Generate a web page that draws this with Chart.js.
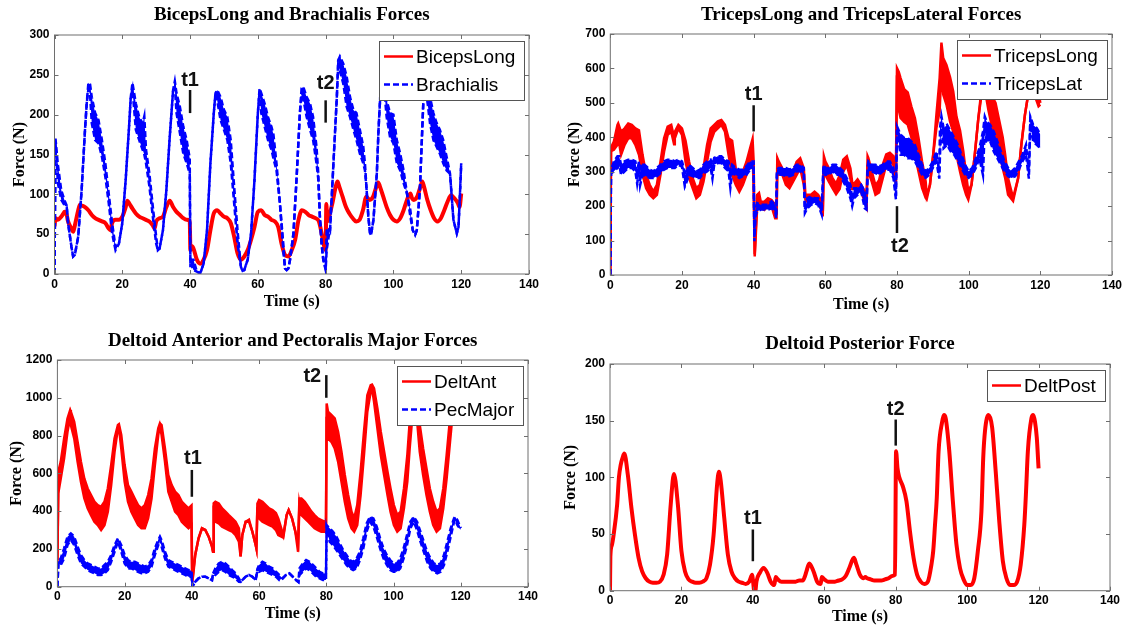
<!DOCTYPE html>
<html>
<head>
<meta charset="utf-8">
<script src="https://cdn.jsdelivr.net/npm/chart.js@4.4.0/dist/chart.umd.min.js"></script>
<style>
body { margin: 0; background: #fff; }
#wrap { position: relative; width: 1128px; height: 631px; }
canvas { position: absolute; }
</style>
</head>
<body>
<div id="wrap">
<canvas id="bicepsChart" width="560" height="318" style="left:0;top:0"></canvas>
<canvas id="tricepsChart" width="568" height="318" style="left:560px;top:0"></canvas>
<canvas id="deltAntChart" width="560" height="313" style="left:0;top:318px"></canvas>
<canvas id="deltPostChart" width="568" height="313" style="left:560px;top:318px"></canvas>
</div>
<script>
// Brachialis (band: low / high edge of the noisy trace)
var brachT = [0,0.3,1,2,3,3.6,4,5,5.5,6,7,8,9,9.5,10,10.5,11,12,13,14,15,16,17,18,19,20,21,22,22.5,23,24,25,26,26.5,27,28,29,30,30.5,31,32,33,34,35,35.5,36,37,38,39,39.9,40.1,40.5,41,42,43,44,45,46,47,47.5,48,49,50,51,52,53,54,55,55.5,56,57,58,59,60,60.5,61,62,63,64,64.6,65.5,66.5,67.5,68,68.5,69,69.5,70.5,71.4,72.4,72.9,73.4,74.4,75.4,76.3,77.3,77.8,78.3,78.8,79.3,80,80.3,81,81.3,82.3,83.3,83.7,84.2,85.2,86.2,87.2,88.2,89.1,90.1,91.1,91.6,92.1,92.6,93.1,93.4,94.1,95.1,95.6,96.1,97,98,99,100,101,102,103,104,105,105.7,106.4,106.9,107.8,108.8,109.5,110.8,111.8,112.7,113.7,114.7,115.7,116.7,117.2,117.7,118.7,119.2,119.6,120];
var brachLo = [0,165,114,93,86,84,64,34,22,24,47,105,181,214,232,225,189,168,164,147,122,89,51,30,38,64,118,185,222,232,181,168,156,150,139,110,72,38,30,32,55,105,172,231,235,202,177,151,139,126,10,10,5,3,1,13,55,139,202,227,218,193,181,168,139,89,38,9,4,5,18,51,118,202,229,202,185,168,156,145,130,89,30,7,5,7,18,51,118,202,225,220,197,181,168,139,120,72,38,18,5,30,50,55,139,222,262,255,239,210,197,181,168,151,139,130,105,72,51,49,68,126,181,222,245,197,172,164,139,130,114,101,72,55,49,55,105,214,235,189,168,160,151,139,130,126,97,68,51,59,97,139];
var brachHi = [0,170,137,105,92,86,64,34,22,24,47,105,181,214,240,238,222,202,193,168,139,101,64,34,38,64,118,185,222,240,214,197,189,198,156,126,85,47,30,32,55,105,172,231,242,227,210,185,168,145,12,18,18,3,1,13,55,139,202,227,231,222,206,197,168,110,55,9,4,5,18,51,118,202,233,227,214,197,185,175,139,89,38,7,5,7,18,51,118,202,233,235,222,214,197,160,128,72,38,18,7,55,58,55,139,222,268,273,264,248,222,206,202,181,160,139,105,72,51,49,68,126,181,222,255,218,202,200,168,151,130,101,80,55,49,55,105,214,245,222,202,190,181,168,147,126,97,68,51,59,97,139];

// BicepsLong
var bicT = [0,0.3,1,2,2.5,3,3.5,4,5,5.5,6,7,7.5,8,9,10,11,12,13,14,15,16,16.5,17,18,19,20,21,21.5,22,23,24,25,26,27,28,29,29.5,30,31,32,33,34,35,36,37,38,39,39.9,40.1,40.5,41,42,43,44,45,46,47,48,49,50,51,52,53,54,55,56,57,58,59,60,61,62,63,64,65,66,67,68,69,70,71,72,73,74,75,76,77,78,79,79.5,80,80.2,80.5,81,82,83,83.5,84,85,86,87,88,89,90,91,92,93,94,95,95.5,96,97,98,99,100,101,102,103,104,105,105.5,106,107,108,108.5,109,110,111,112,113,114,115,116,117,118,119,119.5,120];
var bicV = [60,70,68,72,75,78,76,66,57,53,61,80,87,86,84,80,74,70,68,66,64,57,55,64,68,68,72,84,92,89,82,76,72,70,68,66,61,57,66,70,72,84,92,84,78,74,70,68,67,30,35,32,18,13,18,30,55,76,80,76,72,70,64,47,26,18,22,30,43,59,78,80,74,72,68,66,59,38,24,22,30,43,68,80,78,74,72,70,66,47,36,30,88,66,72,89,110,116,110,97,84,76,70,66,68,80,97,93,97,110,115,110,97,84,74,68,66,70,80,93,101,95,93,97,110,116,110,93,80,70,66,70,80,91,99,95,89,84,101];

// TricepsLong
var tlT = [0,0.2,1,2,2.2,3,4,5,6,7,8,9,10,11,12,13,14,15,16,17,17.8,18,19,20,21,22,23,24,25,26,27,28,29,30,31,32,33,34,35,36,37,38,39,39.7,40,40.3,41,41.5,42,43,44,45,46,46.4,46.6,47,48,49,50,51,52,53,54,54.5,55,56,57,58,59,59.3,59.6,60,61,62,63,64,65,66,67,67.5,68,69,70,71,71.5,71.8,72,73,74,75,76,77,78,79,79.7,80,80.5,81,82,83,84,85,86,87,88,88.3,89.2,90.1,91,91.9,92.4,92.9,93.8,94.8,95.7,96.6,97.6,98.5,99.3,99.9,100.8,101.7,102.7,103.6,104.5,105.5,106.5,107.5,108.5,109.5,110.2,111,112.4,113.8,114.7,115.7,116.6,117.5,118.5,119.5,120];
var tlLo = [0,360,364,378,400,349,378,397,397,378,349,291,252,233,223,233,291,358,407,416,380,397,426,407,329,281,252,223,233,271,329,387,416,426,436,416,349,291,262,242,262,291,329,360,252,54,200,210,194,189,204,199,165,165,300,291,291,262,252,271,291,310,262,220,213,213,223,213,185,180,320,291,271,252,235,250,300,320,280,250,250,262,240,214,200,320,300,270,233,240,280,320,330,320,262,580,480,456,445,437,400,349,301,253,224,220,262,349,427,475,600,524,495,446,416,349,300,260,233,219,262,349,455,524,540,480,430,400,360,310,281,233,215,281,378,465,524,540,520,490,495];
var tlHi = [0,370,388,436,440,416,426,440,436,426,420,349,291,262,242,262,329,397,431,436,400,416,436,426,390,329,281,252,262,310,378,426,436,446,450,436,397,390,310,291,300,329,368,395,330,60,233,238,213,213,223,218,204,175,340,330,310,291,281,300,329,339,310,225,233,233,242,233,213,185,345,330,310,281,265,290,335,345,310,270,265,278,262,243,214,345,340,300,260,275,320,350,355,345,300,601,590,572,540,530,490,456,398,330,272,230,262,349,465,572,675,630,610,575,533,460,420,360,291,243,262,349,455,540,580,560,520,500,450,400,349,281,224,281,378,465,524,580,570,530,500];

// TricepsLat
var tsT = [0,0.2,1,2,2.5,3,4,5,6,7,7.5,8,8.3,9,10,11,12,13,14,15,16,17,18,19,20,20.8,21,22,23,24,25,26,27,28,28.5,29,30,31,32,33,33.5,34,35,36,37,38,39,40,40.2,40.5,41,42,43,44,45,46,46.3,46.5,47,48,49,50,51,52,53,54,54.3,55,56,57,58,59,59.5,60,61,62,63,64,65,66,67,67.5,68,69,70,71,71.5,71.8,72,73,74,75,76,77,78,79,79.7,80,81,82,83,84,85,86,87,88,89,90,91,91.8,92,92.4,93,94,95,96,97,98,99,100,101,102,103,104,104.5,105,106,107,108,109,110,111,112,113,114,115,116,116.8,117.2,118,119,120];
var tsLo = [0,295,301,311,320,291,301,311,311,301,265,301,260,291,287,282,282,287,296,306,311,311,311,320,315,257,262,291,287,282,282,296,301,311,280,320,325,325,311,301,253,296,291,282,287,291,306,311,98,170,185,190,190,190,194,185,165,295,291,291,287,287,291,301,301,291,180,194,204,209,204,175,310,291,291,301,291,291,272,252,223,200,223,233,243,194,190,300,301,301,296,291,301,306,306,282,220,420,349,349,339,339,330,311,291,282,291,311,330,280,349,440,368,378,359,349,330,311,291,282,291,311,339,290,430,388,388,359,339,320,301,287,282,287,306,330,349,280,440,388,378,368];
var tsHi = [0,305,330,345,345,320,330,335,335,330,300,330,300,325,316,306,301,311,320,330,335,335,330,335,330,300,291,320,311,301,306,320,330,335,320,340,345,345,335,330,300,320,311,306,306,316,330,330,110,185,209,204,204,204,214,204,175,305,311,311,311,306,311,320,320,311,190,223,228,223,223,204,320,311,311,320,320,311,301,281,262,220,252,252,262,243,200,310,330,320,320,316,320,330,330,311,230,432,408,398,398,388,378,349,320,301,311,330,359,300,427,461,427,436,417,398,378,349,320,301,311,339,368,417,460,446,436,417,388,359,330,311,301,311,330,349,378,300,460,436,427,408];

// DeltAnt
var daT = [0,0.3,0.5,1,2,3,3.8,4,5,6,7,8,9,10,11,12,13,14,15,16,17,18,18.3,19,20,21,22,23,24,25,26,27,28,29,30,30.5,31,32,33,34,35,36,37,38,39,39.9,40.1,40.4,41,42,43,44,45,46,46.3,46.5,47,48,49,50,51,52,53,54,54.5,55,56,57,58,59,59.2,59.5,60,61,62,63,64,65,65.7,67.2,68.2,68.8,69.8,70.8,71.6,72,72.6,73.6,74.6,75.6,76.5,77.5,78.5,79.5,79.9,80.1,80.5,81.5,82.5,83.5,84.5,85.5,86.5,87.5,88.3,89.2,90.2,91.2,92.2,93.2,93.6,94.2,95.2,96.2,97.2,98.2,99.1,100.1,101.1,102.1,103.1,104.1,104.8,105.5,106.3,107,107.8,108.8,109.8,110.8,111.8,112.8,113.8,114.8,115.8,116.8,117.5,118.5,119.3,120];
var daLo = [130,560,520,573,679,820,900,855,785,662,556,468,415,379,344,326,300,326,397,538,714,838,845,732,556,450,397,362,326,309,309,362,467,644,803,850,803,662,503,450,397,379,344,326,309,326,26,60,168,256,309,300,265,212,185,430,344,335,318,309,300,291,273,238,160,273,344,344,291,220,203,420,362,344,335,326,318,300,273,260,379,406,362,291,185,440,379,362,344,326,309,300,291,291,291,900,785,767,732,662,556,450,362,309,291,326,485,697,926,1032,1050,979,838,697,591,485,397,326,291,309,415,556,732,880,960,880,714,591,485,397,326,291,309,415,573,767,900,940,900,880];
var daHi = [140,600,626,662,785,890,935,926,873,767,662,573,520,485,450,432,423,450,520,644,785,856,860,803,644,538,503,467,432,414,432,485,573,732,838,865,856,732,591,538,503,485,450,432,414,430,30,80,168,256,309,300,265,212,185,441,450,441,414,397,379,362,344,309,160,273,344,355,291,220,203,440,459,450,432,414,406,390,362,273,379,406,362,291,229,467,467,450,423,397,379,362,353,344,340,970,926,909,891,820,714,591,485,397,362,432,609,820,1014,1067,1070,1050,944,820,714,609,520,432,379,397,520,697,873,960,1010,960,856,732,626,520,450,397,414,520,697,891,960,990,960,930];

// PecMajor
var pmT = [0,0.3,1,2,3,4,5,6,7,8,9,10,11,12,13,14,15,16,17,18,19,20,21,22,23,24,25,26,27,28,29,30,30.5,31,32,33,34,35,36,37,38,39,39.9,40.2,40.5,41,42,43,44,45,46,46.3,47,48,49,50,51,52,53,54,54.5,55,56,57,58,59,59.5,60,61,62,63,64,65,66,67,68,69,70,71,71.7,72,73,74,75,76,77,78,79,79.9,80.1,81,82,83,84,85,86,87,88,89,90,91,92,93,94,95,96,97,98,99,100,101,102,103,104,105,106,107,108,109,110,111,112,113,114,115,116,117,118,118.3,119,120];
var pmLo = [0,125,115,150,220,247,220,168,123,106,88,79,71,62,62,71,88,132,185,238,185,123,97,97,88,79,71,71,79,106,168,220,250,212,150,106,97,88,79,71,62,53,50,0,10,26,44,53,53,44,35,70,62,79,88,79,62,53,44,26,25,35,53,62,53,35,85,79,88,79,71,62,53,35,44,62,71,53,35,25,62,79,97,88,71,53,44,35,35,310,238,220,194,168,141,115,97,88,97,141,203,291,344,318,265,203,150,115,88,79,79,97,150,220,309,344,300,238,185,132,97,79,71,79,115,185,265,344,355,326,300];
var pmHi = [0,135,150,203,265,282,265,212,168,141,123,115,106,97,97,115,132,168,220,256,220,168,141,132,132,123,115,106,115,141,203,247,265,247,185,141,132,123,115,106,97,88,85,5,10,26,44,53,53,44,35,70,97,123,132,123,106,88,71,44,25,35,53,62,53,35,95,115,132,123,106,97,79,62,44,62,71,53,35,25,97,123,141,132,115,97,79,71,70,326,309,291,265,229,194,168,141,132,150,185,256,335,370,362,318,256,203,168,141,123,123,150,203,273,344,370,344,291,238,185,150,123,115,123,168,238,309,362,370,353,309];

// DeltPost
var dpT = [0,0.1,0.5,1,2,2.5,3,3.5,4,5,6,7,8,9,10,11,12,13,14,15,16,17,17.9,19,20,21,22,23,24,25,26,27,28,29,30,30.5,31,32,33,34,35,36,37,38,39,39.8,40,40.4,40.7,41,42,43,44,45,46,46.4,47,48,49,50,51,52,53,54,54.5,55,55.8,57,58,59,59.3,60,61,62,63,64,65,66,67,68.3,69,70,71,71.5,72,73,74,75,76,77,78,79,79.8,80.1,80.5,81,82,83,84,85,86,87,88,89,90,90.5,91,91.5,92,93,93.5,94,95,96,97,98,99,100,101,102,103,104,104.5,105,106,107,108,109,110,111,112,113,114,115,116,116.5,117,118,118.5,119,119.5,120];
var dpV = [0,30,40,49,76,100,111,117,121,102,73,49,29,17,11,8,7,7,8,14,32,76,103,76,35,17,10,8,7,7,8,11,23,49,94,105,97,64,32,17,11,8,7,6,8,14,10,0,0,8,16,20,16,8,5,12,10,8,8,8,8,8,9,9,12,17,24,17,8,6,12,10,8,8,8,9,10,13,20,29,23,14,11,12,11,10,9,9,9,10,11,13,14,123,108,100,92,79,52,29,14,8,6,8,23,35,58,82,123,149,155,152,123,79,41,20,10,5,5,11,35,70,117,141,155,144,105,61,26,11,5,5,8,23,58,88,123,152,155,149,135,108];

var timeTicks = [0, 20, 40, 60, 80, 100, 120, 140];

var RED = 'rgb(255,0,0)';
var BLUE = 'rgb(0,0,255)';
var BLUE_DASH = [6, 3];

function Points(t, v) {
    return t.map(function (x, i) { return { x: x, y: v[i] }; });
}

function BandDatasets(label, t, lo, hi, color, dash) {
    return [
        { label: label, data: Points(t, lo), borderColor: color, borderWidth: 2.5, borderDash: dash || [], fill: false },
        { label: label + ' upper', data: Points(t, hi), borderColor: color, backgroundColor: color, borderWidth: 2.5, borderDash: dash || [], fill: '-1' }
    ];
}

function LineDataset(label, t, v, color) {
    return { label: label, data: Points(t, v), borderColor: color, borderWidth: 4, fill: false, cubicInterpolationMode: 'monotone' };
}

// frame with inward ticks, t1/t2 marks, boxed legend and title
var panelDecor = {
    id: 'panelDecor',
    afterDraw: function (chart, args, opts) {
        var ctx = chart.ctx, a = chart.chartArea;
        var xs = chart.scales.x, ys = chart.scales.y;
        ctx.save();

        ctx.strokeStyle = '#6e6e6e';
        ctx.lineWidth = 1;
        ctx.strokeRect(a.left, a.top, a.right - a.left, a.bottom - a.top);
        ctx.beginPath();
        xs.ticks.forEach(function (tk) {
            var p = Math.round(xs.getPixelForValue(tk.value)) + 0.5;
            ctx.moveTo(p, a.bottom); ctx.lineTo(p, a.bottom - 4);
            ctx.moveTo(p, a.top); ctx.lineTo(p, a.top + 4);
        });
        ys.ticks.forEach(function (tk) {
            var p = Math.round(ys.getPixelForValue(tk.value)) + 0.5;
            ctx.moveTo(a.left, p); ctx.lineTo(a.left + 4, p);
            ctx.moveTo(a.right, p); ctx.lineTo(a.right - 4, p);
        });
        ctx.stroke();

        ctx.fillStyle = '#111';
        ctx.strokeStyle = '#111';
        ctx.lineWidth = 2.5;
        ctx.font = 'bold 20px "Liberation Sans"';
        ctx.textAlign = 'center';
        ctx.textBaseline = 'middle';
        opts.marks.forEach(function (m) {
            var px = xs.getPixelForValue(m.t);
            ctx.beginPath();
            ctx.moveTo(px, ys.getPixelForValue(m.from));
            ctx.lineTo(px, ys.getPixelForValue(m.to));
            ctx.stroke();
            ctx.fillText(m.label, px + (m.dx || 0), ys.getPixelForValue(m.textY));
        });

        ctx.font = '19px "Liberation Sans"';
        var w = 0;
        opts.items.forEach(function (it) { w = Math.max(w, ctx.measureText(it.text).width); });
        var bw = Math.round(w + 46), bh = 3 + 28 * opts.items.length;
        var bx = Math.round(a.right - 5 - bw), by = Math.round(a.top + 6);
        ctx.fillStyle = '#fff';
        ctx.fillRect(bx, by, bw, bh);
        ctx.strokeStyle = '#555';
        ctx.lineWidth = 1;
        ctx.strokeRect(bx + 0.5, by + 0.5, bw, bh);
        opts.items.forEach(function (it, i) {
            var cy = by + 15.5 + 28 * i;
            ctx.strokeStyle = it.color;
            ctx.lineWidth = 2.5;
            ctx.setLineDash(it.dash || []);
            ctx.beginPath();
            ctx.moveTo(bx + 5, cy);
            ctx.lineTo(bx + 34, cy);
            ctx.stroke();
            ctx.setLineDash([]);
            ctx.fillStyle = '#000';
            ctx.textAlign = 'left';
            ctx.fillText(it.text, bx + 37, cy + 1);
        });

        ctx.font = 'bold 19px "Liberation Serif"';
        ctx.fillStyle = '#000';
        ctx.textAlign = 'center';
        ctx.fillText(opts.title, (a.left + a.right) / 2, opts.titleY);
        ctx.restore();
    }
};

function CreateForceChart(id, cfg) {
    var chart = document.getElementById(id).getContext('2d');
    var tickFont = { family: 'Liberation Sans', size: 12, weight: 'bold' };
    var axisFont = { family: 'Liberation Serif', size: 16, weight: 'bold' };
    var plain = function (v) { return String(v); };

    return new Chart(chart, {
        type: 'line',
        data: { datasets: cfg.datasets },
        options: {
            responsive: false,
            animation: false,
            devicePixelRatio: 1,
            events: [],
            layout: { padding: { top: cfg.top, right: cfg.right, left: 0, bottom: 0 } },
            elements: { point: { radius: 0 }, line: { tension: 0 } },
            plugins: {
                legend: { display: false },
                tooltip: { enabled: false },
                panelDecor: { title: cfg.title, titleY: cfg.titleY, items: cfg.items, marks: cfg.marks }
            },
            scales: {
                x: {
                    type: 'linear', min: 0, max: 140,
                    afterFit: function (s) { s.height = cfg.xh; },
                    afterBuildTicks: function (s) { s.ticks = timeTicks.map(function (v) { return { value: v }; }); },
                    grid: { display: false, drawTicks: false }, border: { display: false },
                    ticks: { padding: 3, font: tickFont, color: '#000', maxRotation: 0, autoSkip: false, callback: plain },
                    title: { display: true, text: 'Time (s)', font: axisFont, color: '#000', padding: { top: 0, bottom: cfg.xtp } }
                },
                y: {
                    type: 'linear', min: 0, max: cfg.ymax,
                    afterFit: function (s) { s.width = cfg.yw; },
                    grid: { display: false, drawTicks: false }, border: { display: false },
                    ticks: { stepSize: cfg.ystep, padding: 5, font: tickFont, color: '#000', callback: plain },
                    title: { display: true, text: 'Force (N)', font: axisFont, color: '#000', padding: { top: cfg.ytp, bottom: 0 } }
                }
            }
        },
        plugins: [panelDecor]
    });
}

CreateForceChart('bicepsChart', {
    title: 'BicepsLong and Brachialis Forces', titleY: 15,
    top: 35, right: 31, xh: 44, yw: 54.5, xtp: 6.4, ytp: 10.4, ymax: 300, ystep: 50,
    datasets: BandDatasets('Brachialis', brachT, brachLo, brachHi, BLUE, BLUE_DASH).concat([LineDataset('BicepsLong', bicT, bicV, RED)]),
    items: [{ text: 'BicepsLong', color: RED }, { text: 'Brachialis', color: BLUE, dash: BLUE_DASH }],
    marks: [{ label: 't1', t: 40, textY: 243, from: 231, to: 202 }, { label: 't2', t: 80, textY: 239, from: 218, to: 190 }]
});

CreateForceChart('tricepsChart', {
    title: 'TricepsLong and TricepsLateral Forces', titleY: 15,
    top: 34, right: 16, xh: 43, yw: 50.3, xtp: 3.4, ytp: 5.4, ymax: 700, ystep: 100,
    datasets: BandDatasets('TricepsLat', tsT, tsLo, tsHi, BLUE, BLUE_DASH).concat(BandDatasets('TricepsLong', tlT, tlLo, tlHi, RED)),
    items: [{ text: 'TricepsLong', color: RED }, { text: 'TricepsLat', color: BLUE, dash: BLUE_DASH }],
    marks: [{ label: 't1', t: 40, textY: 523, from: 493, to: 417 }, { label: 't2', t: 80, textY: 84, from: 200, to: 122, dx: 3 }]
});

CreateForceChart('deltAntChart', {
    title: 'Deltoid Anterior and Pectoralis Major Forces', titleY: 23,
    top: 42, right: 32, xh: 44.3, yw: 57.4, xtp: 7.4, ytp: 7.4, ymax: 1200, ystep: 200,
    datasets: BandDatasets('PecMajor', pmT, pmLo, pmHi, BLUE, BLUE_DASH).concat(BandDatasets('DeltAnt', daT, daLo, daHi, RED)),
    items: [{ text: 'DeltAnt', color: RED }, { text: 'PecMajor', color: BLUE, dash: BLUE_DASH }],
    marks: [{ label: 't1', t: 40, textY: 680, from: 618, to: 476, dx: 1 }, { label: 't2', t: 80, textY: 1115, from: 1120, to: 1000, dx: -14 }]
});

CreateForceChart('deltPostChart', {
    title: 'Deltoid Posterior Force', titleY: 26,
    top: 46, right: 18, xh: 40.3, yw: 50, xtp: 4.4, ytp: 1.4, ymax: 200, ystep: 50,
    datasets: [LineDataset('DeltPost', dpT, dpV, RED)],
    items: [{ text: 'DeltPost', color: RED }],
    marks: [{ label: 't1', t: 40, textY: 64, from: 54, to: 26 }, { label: 't2', t: 80, textY: 160, from: 151, to: 128 }]
});
</script>
</body>
</html>
